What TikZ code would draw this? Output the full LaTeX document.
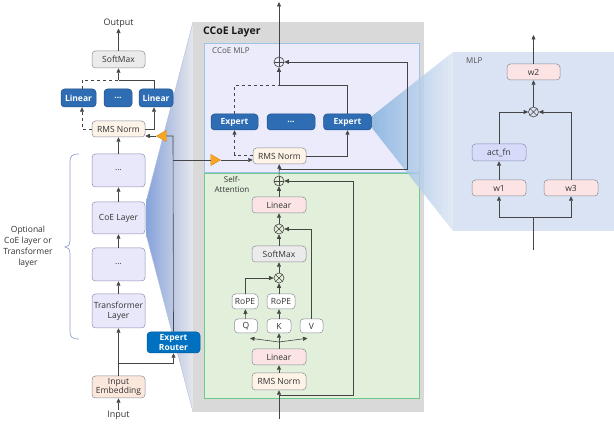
\documentclass[tikz,border=0pt]{standalone}
\usepackage{fontspec}
\setmainfont{Open Sans}
\usetikzlibrary{arrows.meta,shapes.geometric,calc}
\definecolor{txt}{HTML}{333333}
\definecolor{ln}{HTML}{454545}
\definecolor{lavfill}{HTML}{E8E8FA}
\definecolor{lavdraw}{HTML}{8C8CB8}
\definecolor{peach}{HTML}{FDF3E7}
\definecolor{peachb}{HTML}{FBE7DC}
\definecolor{pinkf}{HTML}{FCE4E4}
\definecolor{grayfill}{HTML}{EBEBEB}
\definecolor{boxdraw}{HTML}{8A8A9A}
\definecolor{dkblue}{HTML}{2E6DB4}
\definecolor{dkblued}{HTML}{1F4E85}
\definecolor{routerblue}{HTML}{0070C0}
\definecolor{panelgray}{HTML}{D9D9D9}
\definecolor{mlpfill}{HTML}{EBEBFB}
\definecolor{mlpdraw}{HTML}{9DC3E6}
\definecolor{safill}{HTML}{E2EFDA}
\definecolor{sadraw}{HTML}{70C98C}
\definecolor{rpanel}{HTML}{DAE3F3}
\definecolor{triorange}{HTML}{F5A623}
\definecolor{tridraw}{HTML}{D98A10}
\definecolor{actfill}{HTML}{D6DBFA}
\definecolor{gradblue}{HTML}{86A2DA}
\definecolor{gradgray}{HTML}{E6E7EC}
\definecolor{bracecol}{HTML}{8FA0D0}
\definecolor{rgrad}{HTML}{7FAEDD}
\tikzset{
  bx/.style={draw=boxdraw, rounded corners=3.5pt, line width=0.5pt, align=center, inner sep=0pt, text=txt, font=\fontsize{8.5}{10}\selectfont},
  lav/.style={bx, fill=lavfill, draw=lavdraw, minimum width=53pt},
  pch/.style={bx, fill=peach},
  pnk/.style={bx, fill=pinkf},
  gry/.style={bx, fill=grayfill},
  wht/.style={bx, fill=white},
  dk/.style={bx, fill=dkblue, draw=dkblued, text=white, font=\fontsize{8.5}{10}\selectfont\bfseries},
  arr/.style={draw=ln, line width=0.6pt, -{Triangle[length=4.5pt,width=4pt]}},
  con/.style={draw=ln, line width=0.6pt},
  opl/.style={circle, draw=ln, line width=0.6pt, minimum size=10pt, inner sep=0pt,
    path picture={\draw[ln, line width=0.6pt] (path picture bounding box.north) -- (path picture bounding box.south) (path picture bounding box.west) -- (path picture bounding box.east);}},
  otm/.style={circle, draw=ln, line width=0.6pt, minimum size=10pt, inner sep=0pt,
    path picture={\draw[ln, line width=0.6pt] (path picture bounding box.north west) -- (path picture bounding box.south east) (path picture bounding box.south west) -- (path picture bounding box.north east);}},
  tri/.style={regular polygon, regular polygon sides=3, fill=triorange, draw=tridraw, line width=0.4pt, minimum size=13pt, inner sep=0pt},
  lbl/.style={text=txt, align=center, inner sep=1pt, font=\fontsize{8.5}{11}\selectfont}
}
\begin{document}
\begin{tikzpicture}[x=1pt,y=-1pt]
\useasboundingbox (0,0) rectangle (614,427);
% zoom trapezoid from CoE layer
\shade[left color=gradblue, right color=gradgray] (146,202) -- (193,22) -- (193,412) -- (146,234) -- cycle;
\draw[draw=bracecol!70, line width=0.4pt] (146,202) -- (193,22) (146,234) -- (193,412);
% CCoE panel
\fill[panelgray] (193,22) rectangle (424,412);
\draw[draw=mlpdraw, fill=mlpfill, line width=0.8pt] (204,43) rectangle (419,172);
\draw[draw=sadraw, fill=safill, line width=0.8pt] (204,173) rectangle (419,398);
\fill[rpanel] (453,52) rectangle (614,231);
\shade[left color=rgrad, right color=rpanel, fill opacity=0.8] (372,116) -- (453,52) -- (453,231) -- (372,128) -- cycle;
\node[anchor=west, inner sep=0pt, text=black!90, font=\fontsize{10.5}{12}\selectfont\bfseries] (ttl) at (203,32) {CCoE Layer};
\node[anchor=west, inner sep=0pt, text=txt!85, font=\fontsize{8}{9}\selectfont] (mlplbl) at (212,51) {CCoE MLP};
\node[lbl, font=\fontsize{8}{10}\selectfont] (salbl) at (232,184) {Self-\\Attention};
\node[anchor=west, inner sep=0pt, text=txt!85, font=\fontsize{8}{9}\selectfont] (rmlbl) at (466,61) {MLP};

% ---------- left column ----------
\node[lbl, font=\fontsize{9}{10}\selectfont] (outtxt) at (118.5,23) {Output};
\node[gry, minimum width=53pt, minimum height=17pt] (sm1) at (118.5,59.5) {SoftMax};
\node[dk, minimum width=35pt, minimum height=18pt] (lin1) at (78.5,98) {Linear};
\node[dk, minimum width=28pt, minimum height=18pt] (ldots) at (118,98) {...};
\node[dk, minimum width=34pt, minimum height=18pt] (lin3) at (156,98) {Linear};
\node[pch, minimum width=53pt, minimum height=16pt] (rms1) at (118.5,129) {RMS Norm};
\node[lav, minimum height=33pt] (d1) at (118.5,170.5) {...};
\node[lav, minimum height=32pt] (coe) at (118.5,218) {CoE Layer};
\node[lav, minimum height=33pt] (d2) at (118.5,264.5) {...};
\node[lav, minimum height=34pt] (tl) at (118.5,311) {Transformer\\Layer};
\node[bx, fill=peachb, minimum width=53pt, minimum height=22pt, font=\fontsize{8.5}{9.5}\selectfont] (emb) at (118.5,387) {Input\\Embedding};
\node[lbl, font=\fontsize{9}{10}\selectfont] (intxt) at (118.5,415) {Input};
\node[bx, fill=routerblue, draw=routerblue!80!black, text=white, minimum width=53pt, minimum height=21pt, font=\fontsize{8.5}{10}\selectfont\bfseries] (router) at (173.5,342.5) {Expert\\Router};
\node[tri, shape border rotate=90] (tri1) at (163,136) {};
\node[tri, shape border rotate=-90] (tri2) at (214,160) {};
\node[lbl] (opt) at (28,247) {Optional\\CoE layer or\\Transformer\\layer};
\draw[draw=bracecol, line width=0.7pt] (79,154) .. controls (72,154) and (70,156) .. (70,162) -- (70,240) .. controls (70,245) and (68,247) .. (65,247) .. controls (68,247) and (70,249) .. (70,254) -- (70,331) .. controls (70,337) and (72,339) .. (79,339);

\coordinate (br1) at (118.5,363);
\coordinate (c1) at (173,136);
\coordinate (c2) at (173,160);
\coordinate (jn1) at (118.5,80);
\draw[arr] (intxt) -- (emb);
\draw[arr] (emb) -- (tl);
\draw[arr] (tl) -- (d2);
\draw[arr] (d2) -- (coe);
\draw[arr] (coe) -- (d1);
\draw[arr] (d1) -- (rms1);
\draw[arr] (br1) -| (router.south);
\draw[con] (router.north) -- (c1) -- (tri1);
\draw[arr] (tri1) -- (rms1.east |- tri1);
\draw[con] (c2) -- (tri2);
\draw[arr, dashed] (rms1.west) -| ([xshift=3.5pt]lin1.south);
\draw[arr] (rms1.east) -| ([xshift=-2pt]lin3.south);
\draw[con, dashed] ([xshift=3.5pt]lin1.north) |- (jn1);
\draw[con] (jn1) -| ([xshift=-2pt]lin3.north);
\draw[arr] (jn1) -- (sm1);
\draw[arr] (sm1) -- (outtxt);

% ---------- CCoE MLP ----------
\node[opl] (op2) at (279,62) {};
\node[dk, minimum width=47pt, minimum height=16pt] (exp1) at (234.5,122) {Expert};
\node[dk, minimum width=48pt, minimum height=16pt] (edots) at (291,122) {...};
\node[dk, minimum width=48pt, minimum height=16pt] (exp3) at (347.5,122) {Expert};
\node[pch, minimum width=53pt, minimum height=16pt] (rms2) at (279.5,156) {RMS Norm};
\coordinate (jn2) at (279,85);
\coordinate (r2) at (279,169);
\coordinate (top1) at (279,2);
\draw[arr] (tri2) -- (rms2.west |- tri2);
\draw[arr, dashed] ([yshift=1pt]rms2.west) -| (exp1.south);
\draw[arr] (rms2.east) -| (exp3.south);
\draw[con, dashed] (exp1.north) |- (jn2);
\draw[con] (jn2) -| (exp3.north);
\draw[arr] (jn2) -- (op2);
\draw[arr] (op2) -- (top1);
\draw[arr] (r2) -- ++(128,0) |- (op2);

% ---------- Self-Attention ----------
\node[opl] (op1) at (279,181) {};
\node[pnk, minimum width=54pt, minimum height=16pt] (lin5) at (279,205) {Linear};
\node[otm] (ot2) at (279,229) {};
\node[gry, minimum width=54pt, minimum height=16pt] (sm2) at (279,254) {SoftMax};
\node[otm] (ot1) at (279,278) {};
\node[wht, minimum width=26pt, minimum height=15pt] (rope1) at (245,301.5) {RoPE};
\node[wht, minimum width=28pt, minimum height=15pt] (rope2) at (281,301.5) {RoPE};
\node[wht, minimum width=23pt, minimum height=14pt] (qq) at (246,326) {Q};
\node[wht, minimum width=24pt, minimum height=14pt] (kk) at (279,326) {K};
\node[wht, minimum width=23pt, minimum height=14pt] (vv) at (311.5,326) {V};
\node[pnk, minimum width=54pt, minimum height=16pt] (lin4) at (279,357) {Linear};
\node[pch, minimum width=54pt, minimum height=17pt] (rms3) at (279,381.5) {RMS Norm};
\coordinate (bot1) at (279,419);
\coordinate (r3) at (279,395);
\coordinate (sp) at (279,342);
\draw[arr] (bot1) -- (rms3);
\draw[arr] (r3) -- ++(74,0) |- (op1);
\draw[arr] (rms3) -- (lin4);
\draw[con] (lin4) -- (sp);
\draw[arr] (sp) -- (kk);
\draw[arr] (sp) -- ([xshift=4pt,yshift=-5pt]qq.south);
\draw[arr] (sp) -- ([xshift=-4pt,yshift=-5pt]vv.south);
\draw[arr] (qq) -- (rope1);
\draw[arr] (kk) -- (rope2.south -| kk);
\draw[arr] (rope1.north) |- (ot1);
\draw[arr] (rope2.north -| kk) -- (ot1);
\draw[arr] (ot1) -- (sm2);
\draw[arr] (sm2) -- (ot2);
\draw[arr] (vv.north) |- (ot2);
\draw[arr] (ot2) -- (lin5);
\draw[arr] (lin5) -- (op1);
\draw[arr] (op1) -- (rms2);

% ---------- MLP panel ----------
\node[pnk, minimum width=53pt, minimum height=16pt] (w2) at (533.5,72) {w2};
\node[otm] (ot3) at (533.5,112) {};
\node[bx, fill=actfill, draw=lavdraw, minimum width=54pt, minimum height=17pt] (act) at (499,152.5) {act\_fn};
\node[pnk, minimum width=54pt, minimum height=16pt] (w1) at (499,188) {w1};
\node[pnk, minimum width=54pt, minimum height=16pt] (w3) at (571,188) {w3};
\coordinate (bot2) at (533.5,250);
\coordinate (j3) at (533.5,217);
\coordinate (top2) at (533.5,35);
\draw[con] (bot2) -- (j3);
\draw[arr] (j3) -| (w1);
\draw[arr] (j3) -| (w3);
\draw[arr] (w1) -- (act);
\draw[arr] (act.north) |- (ot3);
\draw[arr] (w3.north) |- (ot3);
\draw[arr] (ot3) -- (w2);
\draw[arr] (w2) -- (top2);
\end{tikzpicture}
\end{document}
